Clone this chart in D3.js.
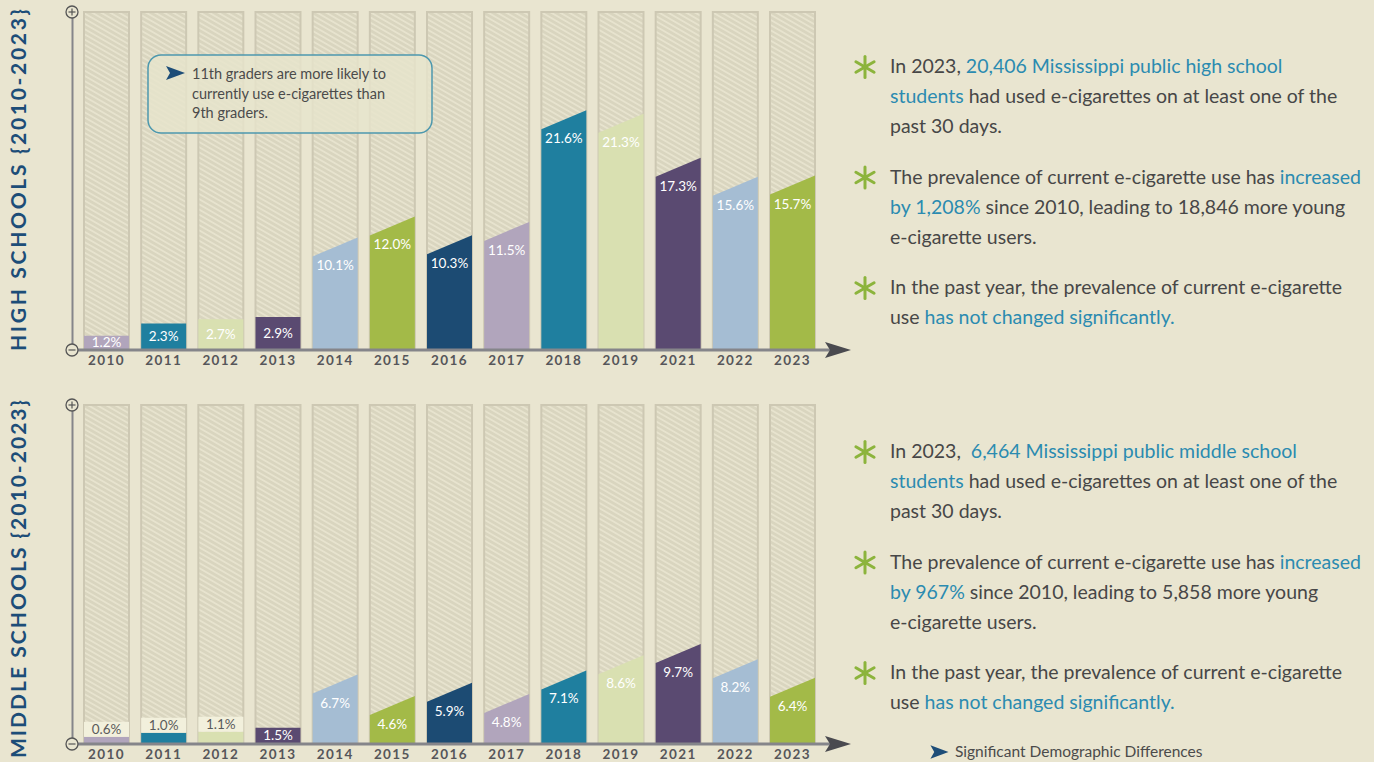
<!DOCTYPE html>
<html><head><meta charset="utf-8">
<script src="https://cdn.jsdelivr.net/npm/d3@7"></script>
<style>
html,body{margin:0;padding:0;background:#e9e5d0;overflow:hidden;}
svg{display:block;}
text{white-space:pre;}
</style></head><body>
<svg id="chart" width="1374" height="762"></svg>
<script>
// ---------- data ----------
const years = ["2010","2011","2012","2013","2014","2015","2016","2017","2018","2019","2021","2022","2023"];
const highSchoolValues = [1.2,2.3,2.7,2.9,10.1,12.0,10.3,11.5,21.6,21.3,17.3,15.6,15.7];
const middleSchoolValues = [0.6,1.0,1.1,1.5,6.7,4.6,5.9,4.8,7.1,8.6,9.7,8.2,6.4];
const barColors = ["#b1a5bc","#1f7f9f","#d9e0b1","#5a4a71","#a5bdd3","#a3ba48","#1c4b73","#b1a5bc","#1f7f9f","#d9e0b1","#5a4a71","#a5bdd3","#a3ba48"];
const panelTitles = ["HIGH SCHOOLS {2010-2023}", "MIDDLE SCHOOLS {2010-2023}"];
const highSchoolNotes = [
  [[["In 2023, ",0],["20,406 Mississippi public high school",1]],[["students",1],[" had used e-cigarettes on at least one of the",0]],[["past 30 days.",0]]],
  [[["The prevalence of current e-cigarette use has ",0],["increased",1]],[["by 1,208%",1],[" since 2010, leading to 18,846 more young",0]],[["e-cigarette users.",0]]],
  [[["In the past year, the prevalence of current e-cigarette",0]],[["use ",0],["has not changed significantly.",1]]]
];
const middleSchoolNotes = [
  [[["In 2023,  ",0],["6,464 Mississippi public middle school",1]],[["students",1],[" had used e-cigarettes on at least one of the",0]],[["past 30 days.",0]]],
  [[["The prevalence of current e-cigarette use has ",0],["increased",1]],[["by 967%",1],[" since 2010, leading to 5,858 more young",0]],[["e-cigarette users.",0]]],
  [[["In the past year, the prevalence of current e-cigarette",0]],[["use ",0],["has not changed significantly.",1]]]
];
const calloutLines = ["11th graders are more likely to","currently use e-cigarettes than","9th graders."];
const legendLabel = "Significant Demographic Differences";

// ---------- setup ----------
const svg = d3.select("#chart");
const FONT = "Lato, 'Open Sans', sans-serif";
const TEXT = "#474747", HILITE = "#2b8bb0", NAVY = "#1d4d78";

const defs = svg.append("defs");
const pat = defs.append("pattern").attr("id","hatch").attr("patternUnits","userSpaceOnUse")
  .attr("width",4.5).attr("height",4.5).attr("patternTransform","rotate(30)");
pat.append("rect").attr("width",4.5).attr("height",4.5).attr("fill","#d9d5bf");
pat.append("rect").attr("width",4.5).attr("height",1.8).attr("fill","#e7e3ce");

const x = d3.scaleBand().domain(years).range([84, 815]).paddingInner(0.213).paddingOuter(0);

const panels = [
  {values: highSchoolValues, top: 12, base: 349, max: 30.5, title: panelTitles[0], notes: highSchoolNotes, noteY: 73},
  {values: middleSchoolValues, top: 405, base: 743, max: 33.1, title: panelTitles[1], notes: middleSchoolNotes, noteY: 458}
];

const arrowIcon = (g, cx, cy, s) => {
  g.append("path")
    .attr("d", `M${cx-9*s},${cy-7*s} L${cx+10*s},${cy} L${cx-9*s},${cy+7*s} L${cx-5*s},${cy} Z`)
    .attr("fill", NAVY);
};

const asterisk = (g, cx, cy) => {
  const a = g.append("g").attr("transform", `translate(${cx},${cy})`);
  [90, 30, 150].forEach(ang => {
    const r = 10.5, rad = ang*Math.PI/180;
    a.append("line").attr("x1", -r*Math.cos(rad)).attr("y1", -r*Math.sin(rad))
      .attr("x2", r*Math.cos(rad)).attr("y2", r*Math.sin(rad))
      .attr("stroke", "#8cb43c").attr("stroke-width", 3).attr("stroke-linecap","round");
  });
  a.append("circle").attr("r",2.5).attr("fill","#8cb43c");
};

panels.forEach((p, pi) => {
  const y = d3.scaleLinear().domain([0, p.max]).range([p.base, p.top]);
  const g = svg.append("g");
  const slant = 19;

  // background hatched bars
  g.selectAll(".bg").data(years).join("rect")
    .attr("x", d => x(d)).attr("y", p.top)
    .attr("width", x.bandwidth()).attr("height", p.base - p.top)
    .attr("fill", "url(#hatch)").attr("stroke", "#cdc8b3").attr("stroke-width", 2);

  const data = years.map((yr, i) => ({yr, v: p.values[i], c: barColors[i]}));

  // value bars
  g.selectAll(".bar").data(data).join("path")
    .attr("d", d => {
      const x0 = x(d.yr), x1 = x0 + x.bandwidth();
      const yr = y(d.v);
      const yl = d.v >= 4 ? yr + slant : yr;
      return `M${x0},${p.base} L${x0},${yl} L${x1},${yr} L${x1},${p.base} Z`;
    })
    .attr("fill", d => d.c);

  // label boxes for very small values
  const tiny = data.filter(d => d.v < 1.2);
  g.selectAll(".lbox").data(tiny).join("rect")
    .attr("x", d => x(d.yr)).attr("y", d => y(d.v) - 15)
    .attr("width", x.bandwidth()).attr("height", 15)
    .attr("fill", "#f2f0dc");

  // value labels
  g.selectAll(".lbl").data(data).join("text")
    .attr("x", d => x(d.yr) + x.bandwidth()/2)
    .attr("y", d => {
      if (d.v < 1.2) return y(d.v) - 3;
      if (d.v < 4) return (y(d.v) + p.base)/2 + 5;
      return y(d.v) + slant + 14;
    })
    .attr("text-anchor","middle")
    .attr("font-family", FONT).attr("font-size", 13.5)
    .attr("fill", d => d.v < 1.2 ? "#5a5a5a" : "#ffffff")
    .text(d => d.v.toFixed(1) + "%");

  // x axis (year labels)
  const xAxis = d3.axisBottom(x).tickSize(0).tickPadding(5);
  const ax = g.append("g").attr("transform", `translate(0,${p.base + 1})`).call(xAxis);
  ax.select(".domain").remove();
  ax.selectAll("text").attr("font-family", FONT).attr("font-weight", 700)
    .attr("font-size", 13.5).attr("letter-spacing", 1.4).attr("fill", "#56565a");

  // baseline with arrow
  g.append("line").attr("x1", 72).attr("x2", 830).attr("y1", p.base + 1).attr("y2", p.base + 1)
    .attr("stroke", "#85858a").attr("stroke-width", 3);
  g.append("path")
    .attr("d", `M825,${p.base-7} L851,${p.base+1} L825,${p.base+9} L830,${p.base+1} Z`)
    .attr("fill", "#4a4a4f");

  // y axis line
  const yAxis = d3.axisLeft(y).tickValues([]).tickSizeOuter(0);
  const ay = g.append("g").attr("transform", "translate(72,0)").call(yAxis);
  ay.select(".domain").attr("stroke", "#85858a").attr("stroke-width", 2);

  // +/- circles
  [[p.top, "+"], [p.base + 1, "-"]].forEach(([cy, s]) => {
    g.append("circle").attr("cx", 72).attr("cy", cy).attr("r", 6)
      .attr("fill", "#e9e5d0").attr("stroke", "#555").attr("stroke-width", 1.3);
    g.append("line").attr("x1", 68.5).attr("x2", 75.5).attr("y1", cy).attr("y2", cy)
      .attr("stroke", "#555").attr("stroke-width", 1.2);
    if (s === "+") g.append("line").attr("x1", 72).attr("x2", 72).attr("y1", cy-3.5).attr("y2", cy+3.5)
      .attr("stroke", "#555").attr("stroke-width", 1.2);
  });

  // vertical title
  p.titleNode = g.append("text")
    .attr("font-family", FONT).attr("font-weight", 700).attr("font-size", 21)
    .attr("fill", NAVY)
    .text(p.title);

  // notes
  const ng = g.append("g");
  p.notes.forEach((bullet, bi) => {
    const by = p.noteY + bi * 110.5;
    asterisk(ng, 865, by - 6);
    bullet.forEach((line, li) => {
      const t = ng.append("text").attr("x", 890).attr("y", by + li * 30)
        .attr("font-family", FONT).attr("font-size", 19.5).attr("fill", TEXT);
      line.forEach(([s, h]) => t.append("tspan").attr("fill", h ? HILITE : TEXT).text(s));
    });
  });
});

// vertical titles sizing
(() => {
  const t0 = panels[0].titleNode, t1 = panels[1].titleNode;
  const nat0 = t0.node().getComputedTextLength();
  const nat1 = t1.node().getComputedTextLength();
  const targetTop = 342;
  const ls = (targetTop - nat0) / (panelTitles[0].length - 1);
  t0.attr("transform", "translate(26,351) rotate(-90)").attr("textLength", targetTop).attr("lengthAdjust","spacing");
  const len1 = Math.min(nat1 + ls * (panelTitles[1].length - 1), 358);
  t1.attr("transform", `translate(26,${400 + len1}) rotate(-90)`).attr("textLength", len1).attr("lengthAdjust","spacing");
})();

// callout box
const cg = svg.append("g");
cg.append("rect").attr("x", 148).attr("y", 55).attr("width", 284).attr("height", 78).attr("rx", 13)
  .attr("fill", "#e6e4cc").attr("fill-opacity", 0.82).attr("stroke", "#4d98ae").attr("stroke-width", 1.5);
arrowIcon(cg, 175, 73, 1);
calloutLines.forEach((s, i) => {
  cg.append("text").attr("x", 192).attr("y", 79 + i * 19.5)
    .attr("font-family", FONT).attr("font-size", 14.5).attr("fill", "#4b4b4b").text(s);
});

// legend
const lg = svg.append("g");
arrowIcon(lg, 939, 752, 0.95);
lg.append("text").attr("x", 955).attr("y", 757).attr("font-family", FONT).attr("font-size", 15.5)
  .attr("fill", "#4b4b4b").text(legendLabel);
</script>
</body></html>
